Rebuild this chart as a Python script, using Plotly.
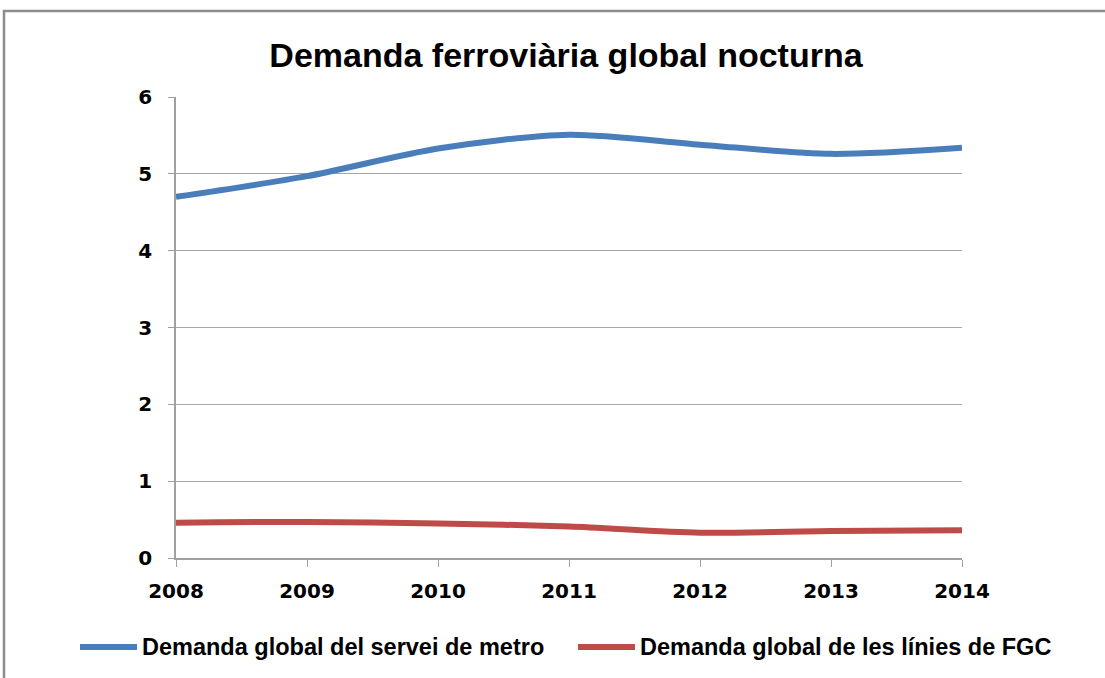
import plotly.graph_objects as go

years = [2008, 2009, 2010, 2011, 2012, 2013, 2014]
metro = [4.70, 4.97, 5.33, 5.51, 5.38, 5.26, 5.34]
fgc = [0.46, 0.47, 0.45, 0.41, 0.33, 0.35, 0.36]
names = ["Demanda global del servei de metro", "Demanda global de les línies de FGC"]
colors = ["#4A7EBB", "#BE4B48"]

W, H = 1105, 678
L, R, T, B = 176, 143, 97, 120
pw, ph = W - L - R, H - T - B

def px_x(p):
    return (p - L) / pw

def px_y(p):
    return (H - B - p) / ph

fig = go.Figure()
for vals, name, col in zip([metro, fgc], names, colors):
    fig.add_trace(go.Scatter(x=years, y=vals, name=name, mode="lines",
                             line=dict(color=col, width=6, shape="spline", smoothing=0.8)))

fig.update_layout(
    width=W, height=H,
    paper_bgcolor="white", plot_bgcolor="white",
    margin=dict(l=L, r=R, t=T, b=B),
    title=dict(text="Demanda ferroviària global nocturna", x=566/W, xanchor="center",
               y=1-55/H, yanchor="middle",
               font=dict(family="Liberation Sans", size=34, color="black", weight="bold")),
    showlegend=False,
    font=dict(family="DejaVu Sans", color="black"),
)
fig.update_xaxes(range=[2008, 2014], tickvals=years, ticktext=[str(y) for y in years],
                 showgrid=False, showline=True, linecolor="#A0A0A0", linewidth=1.5,
                 ticks="outside", ticklen=7, tickcolor="#A0A0A0",
                 ticklabelstandoff=7,
                 tickfont=dict(family="DejaVu Sans", size=20, weight="bold", color="black"),
                 zeroline=False)
fig.update_yaxes(range=[0, 6], tickvals=[0, 1, 2, 3, 4, 5, 6],
                 showgrid=True, gridcolor="#A6A6A6", gridwidth=1.2,
                 showline=True, linecolor="#A0A0A0", linewidth=1.5,
                 ticks="outside", ticklen=6, tickcolor="#A0A0A0",
                 ticklabelstandoff=12,
                 tickfont=dict(family="DejaVu Sans", size=20, weight="bold", color="black"),
                 zeroline=False)
# outer chart frame
fig.add_shape(type="rect", xref="paper", yref="paper",
              x0=px_x(4), x1=px_x(1200), y0=px_y(760), y1=px_y(11),
              line=dict(color="#8C8C8C", width=2.5), fillcolor="rgba(0,0,0,0)", layer="below")
# manual legend
leg_items = [(80, 137, 140), (578, 635, 638)]
for (x0, x1, xt), name, col in zip(leg_items, names, colors):
    fig.add_shape(type="line", xref="paper", yref="paper",
                  x0=px_x(x0), x1=px_x(x1), y0=px_y(647), y1=px_y(647),
                  line=dict(color=col, width=6))
    fig.add_annotation(text=name, xref="paper", yref="paper", x=px_x(xt), y=px_y(647),
                       xanchor="left", yanchor="middle", showarrow=False,
                       font=dict(family="Liberation Sans", size=23.5, color="black", weight="bold"))
fig.write_html("out.html", config={"displayModeBar": False},
               post_script="document.body.style.margin='0px';")
